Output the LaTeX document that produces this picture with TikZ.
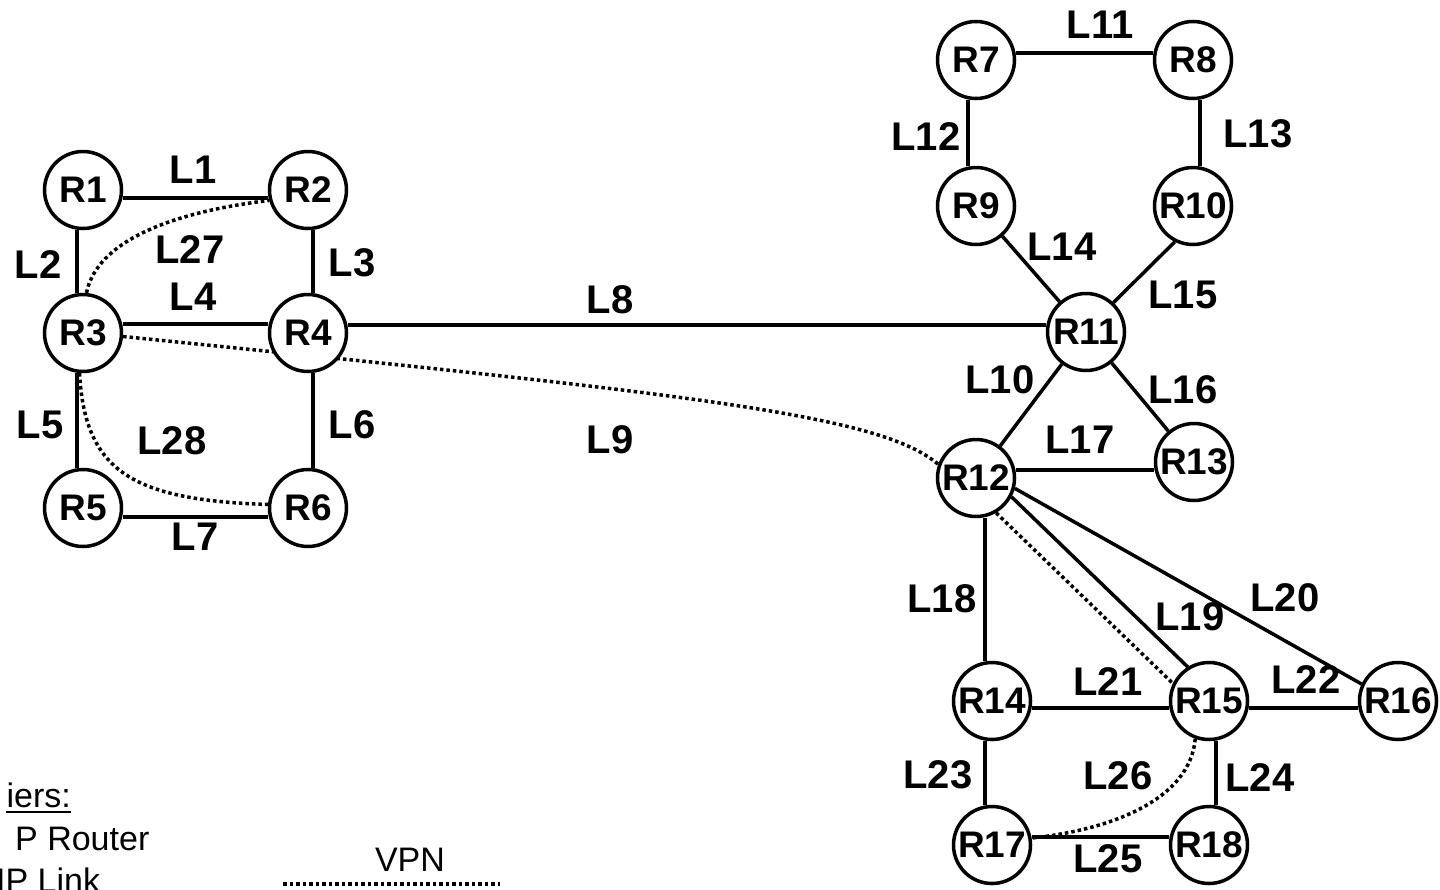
\documentclass[tikz,border=0pt]{standalone}
\usepackage{fontspec}
\setmainfont{Liberation Sans}
\usetikzlibrary{backgrounds}
\begin{document}
\begin{tikzpicture}[x=1pt,y=-1pt,
  router/.style={circle,draw,line width=3.5pt,fill=white,minimum size=77pt,inner sep=-6pt,
    font=\fontsize{37}{41}\selectfont\bfseries},
  lbl/.style={font=\fontsize{40}{44}\selectfont\bfseries,inner sep=0pt},
  legendtxt/.style={font=\fontsize{34}{38}\selectfont,inner sep=0pt},
  link/.style={line width=3.5pt},
  vpn/.style={line width=3.5pt,dash pattern=on 3.5pt off 3pt}]
\clip (0,0) rectangle (1440,889);

% routers
\node[router] (R1) at (83,190) {R1};
\node[router] (R2) at (308,190) {R2};
\node[router] (R3) at (83,333) {R3};
\node[router] (R4) at (308,333) {R4};
\node[router] (R5) at (83,508) {R5};
\node[router] (R6) at (308,508) {R6};
\node[router] (R7) at (976,60) {R7};
\node[router] (R8) at (1193,60) {R8};
\node[router] (R9) at (976,206) {R9};
\node[router] (R10) at (1193,206) {R10};
\node[router] (R11) at (1086,332) {R11};
\node[router] (R12) at (976,478) {R12};
\node[router] (R13) at (1194,462) {R13};
\node[router] (R14) at (992,701) {R14};
\node[router] (R15) at (1209,701) {R15};
\node[router] (R16) at (1398,701) {R16};
\node[router] (R17) at (992,845) {R17};
\node[router] (R18) at (1209,845) {R18};

\begin{pgfonlayer}{background}
% IP links
\draw[link] ([yshift=-8pt]R1.east) -- ([yshift=-8pt]R2.west);
\draw[link] ([xshift=-6pt]R1.south) -- ([xshift=-6pt]R3.north);
\draw[link] ([xshift=5pt]R2.south) -- ([xshift=5pt]R4.north);
\draw[link] ([yshift=9pt]R3.east) -- ([yshift=9pt]R4.west);
\draw[link] ([xshift=-6pt]R3.south) -- ([xshift=-6pt]R5.north);
\draw[link] ([xshift=5pt]R4.south) -- ([xshift=5pt]R6.north);
\draw[link] ([yshift=-9pt]R5.east) -- ([yshift=-9pt]R6.west);
\draw[link] ([yshift=8pt]R4.east) -- ([yshift=7pt]R11.west);
\draw[link] ([yshift=7pt]R7.east) -- ([yshift=7pt]R8.west);
\draw[link] ([xshift=-8pt]R7.south) -- ([xshift=-8pt]R9.north);
\draw[link] ([xshift=7pt]R8.south) -- ([xshift=7pt]R10.north);
\draw[link] (R9) -- (R11);
\draw[link] (R10.-117) -- (R11.47);
\draw[link] (R11) -- (R12);
\draw[link] (R11) -- (R13);
\draw[link] ([yshift=8pt]R12.east) -- ([yshift=-8pt]R13.west);
\draw[link] ([xshift=9pt]R12.south) -- ([xshift=-7pt]R14.north);
\draw[link] (R12.-28) -- (R15.122);
\draw[link] (R12.-15) -- (R16.155);
\draw[link] ([yshift=-7pt]R14.east) -- ([yshift=-7pt]R15.west);
\draw[link] ([yshift=-7pt]R15.east) -- ([yshift=-7pt]R16.west);
\draw[link] ([xshift=-7pt]R14.south) -- ([xshift=-7pt]R17.north);
\draw[link] ([xshift=7pt]R15.south) -- ([xshift=7pt]R18.north);
\draw[link] ([yshift=8pt]R17.east) -- ([yshift=8pt]R18.west);
% VPN links
\draw[vpn] (R3.-5) .. controls (700,395) and (880,415) .. (R12.160);
\draw[vpn] (R3.85) .. controls (95,250) and (150,215) .. (R2.195);
\draw[vpn] (R3.265) .. controls (85,470) and (130,500) .. (R6.175);
\draw[vpn] (R12.-60) -- (R15.154);
\draw[vpn] (R15.250) .. controls (1190,800) and (1110,830) .. (R17.10);
\end{pgfonlayer}

% link labels
\node[lbl] (l1) at (193,170) {L1};
\node[lbl] (l2) at (38,265) {L2};
\node[lbl] (l27) at (190,250) {L27};
\node[lbl] (l3) at (352,263) {L3};
\node[lbl] (l4) at (193,297) {L4};
\node[lbl] (l5) at (40,425) {L5};
\node[lbl] (l28) at (172,441) {L28};
\node[lbl] (l6) at (352,425) {L6};
\node[lbl] (l7) at (195,537) {L7};
\node[lbl] (l8) at (610,300) {L8};
\node[lbl] (l9) at (610,440) {L9};
\node[lbl] (l11) at (1100,25) {L11};
\node[lbl] (l12) at (926,137) {L12};
\node[lbl] (l13) at (1258,134) {L13};
\node[lbl] (l14) at (1062,247) {L14};
\node[lbl] (l15) at (1183,295) {L15};
\node[lbl] (l10) at (1000,380) {L10};
\node[lbl] (l16) at (1183,390) {L16};
\node[lbl] (l17) at (1080,440) {L17};
\node[lbl] (l18) at (942,599) {L18};
\node[lbl] (l19) at (1190,617) {L19};
\node[lbl] (l20) at (1285,598) {L20};
\node[lbl] (l21) at (1108,682) {L21};
\node[lbl] (l22) at (1306,680) {L22};
\node[lbl] (l23) at (938,775) {L23};
\node[lbl] (l24) at (1260,778) {L24};
\node[lbl] (l25) at (1108,859) {L25};
\node[lbl] (l26) at (1118,776) {L26};

% legend
\node[legendtxt,anchor=base east] (idhead) at (71,807) {iers:};
\draw[line width=2.5pt] ([yshift=-5pt]idhead.base west) -- ([yshift=-5pt]idhead.base east);
\node[legendtxt,anchor=base west] (iprouter) at (15,850) {P Router};
\node[legendtxt,anchor=base west] (iplink) at (-4,892) {IP Link};
\node[legendtxt,anchor=base] (vpnkey) at (410,871) {VPN};
\coordinate (vpnA) at (283,884);
\coordinate (vpnB) at (500,884);
\draw[vpn] (vpnA) -- (vpnB);
\end{tikzpicture}
\end{document}
